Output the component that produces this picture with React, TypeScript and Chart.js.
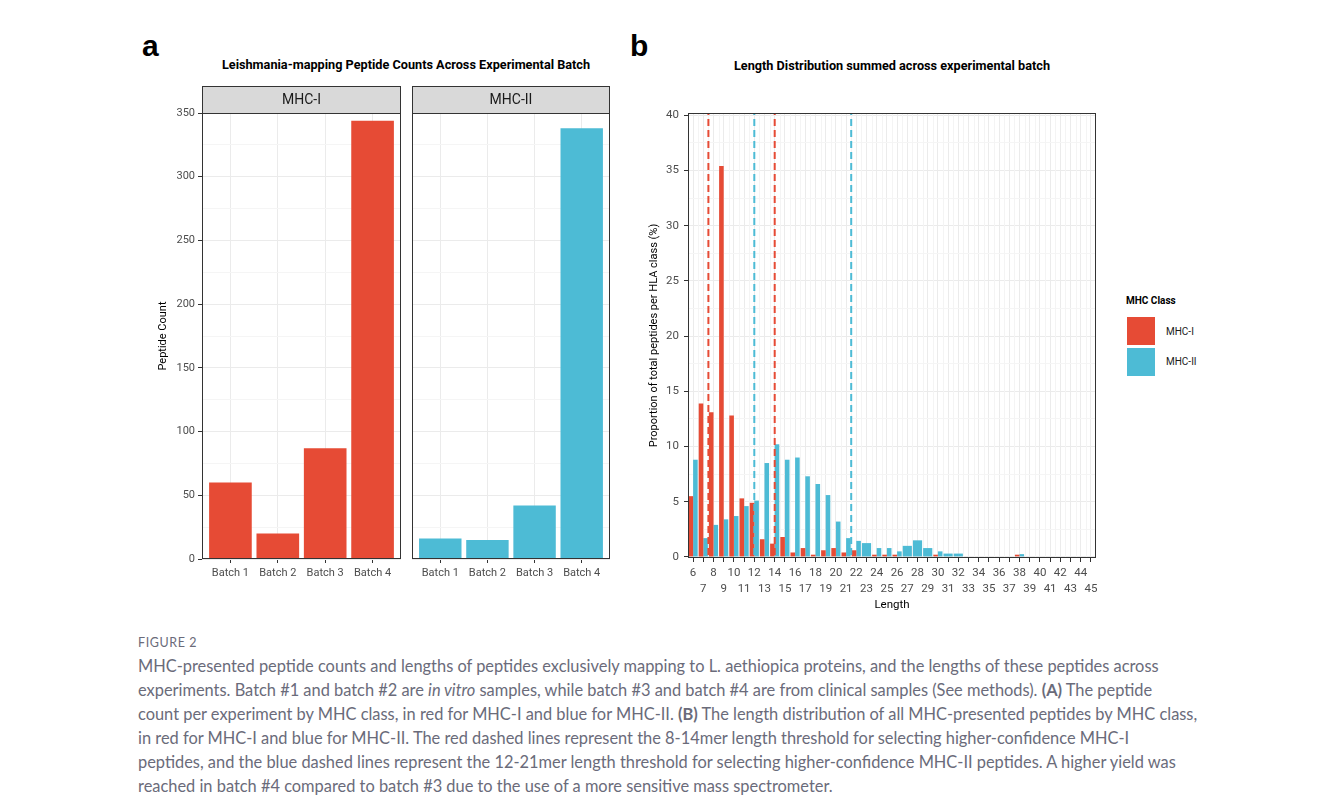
import React, { useEffect, useRef } from 'react';
import { Chart, registerables } from 'chart.js';

Chart.register(...registerables);

const RED = '#E64B35';
const BLUE = '#4DBBD5';

// Panel a
const batches = ['Batch 1', 'Batch 2', 'Batch 3', 'Batch 4'];
const batchPos = [1, 2, 3, 4];
const mhc1Counts = [60, 20, 87, 344];
const mhc2Counts = [16, 15, 42, 338];

// Panel b
const lengths = [6, 7, 8, 9, 10, 11, 12, 13, 14, 15, 16, 17, 18, 19, 20, 21, 22, 23, 24, 25,
  26, 27, 28, 29, 30, 31, 32, 33, 34, 35, 36, 37, 38, 39, 40, 41, 42, 43, 44, 45];
const mhc1Pct = [5.5, 13.9, 13.1, 35.4, 12.8, 5.3, 4.9, 1.6, 1.2, 1.8, 0.4, 0.8, 0.2, 0.6, 0.8, 0.4, 0.6, null, 0.2, 0.2,
  0.2, null, null, null, 0.2, null, null, null, null, null, null, null, 0.2, null, null, null, null, null, null, null];
const mhc2Pct = [8.8, 1.7, 2.9, 3.4, 3.7, 4.6, 5.1, 8.5, 10.2, 8.8, 9.0, 7.3, 6.6, 5.6, 3.2, 1.7, 1.45, 1.25, 0.8, 0.8,
  0.5, 1.0, 1.5, 0.8, 0.5, 0.3, 0.3, null, null, null, null, null, 0.25, null, null, null, null, null, null, null];
const mhc1Thresholds = [7.5, 14];
const mhc2Thresholds = [12, 21.5];

const TICK_COLOR = '#4d4d4d';
const FONT = 'Roboto';
const STRIP_H = 27;

const borderPlugin = {
  id: 'panelBorder',
  afterDatasetsDraw(chart: any) {
    const { ctx, chartArea } = chart;
    ctx.save();
    ctx.strokeStyle = '#333333';
    ctx.lineWidth = 1;
    ctx.strokeRect(chartArea.left + 0.5, chartArea.top + 0.5, chartArea.right - chartArea.left - 1, chartArea.bottom - chartArea.top - 1);
    ctx.restore();
  },
};

const stripPlugin = {
  id: 'strip',
  afterDraw(chart: any, _args: any, opts: any) {
    if (!opts || !opts.text) return;
    const { ctx, chartArea } = chart;
    const h = STRIP_H;
    const w = chartArea.right - chartArea.left;
    ctx.save();
    ctx.fillStyle = '#d9d9d9';
    ctx.fillRect(chartArea.left, chartArea.top - h, w, h);
    ctx.strokeStyle = '#333333';
    ctx.lineWidth = 1;
    ctx.strokeRect(chartArea.left + 0.5, chartArea.top - h + 0.5, w - 1, h);
    ctx.fillStyle = '#1a1a1a';
    ctx.font = `14px ${FONT}`;
    ctx.textAlign = 'center';
    ctx.textBaseline = 'middle';
    ctx.fillText(opts.text, chartArea.left + w / 2, chartArea.top - h / 2 + 1);
    ctx.restore();
  },
};

const minorXGridPlugin = {
  id: 'minorXGrid',
  beforeDatasetsDraw(chart: any) {
    const { ctx, chartArea, scales } = chart;
    const x = scales.x;
    ctx.save();
    ctx.strokeStyle = '#f4f4f4';
    ctx.lineWidth = 1;
    for (let i = 0; i < lengths.length - 1; i++) {
      const px = Math.round(x.getPixelForValue(i + 0.5)) + 0.5;
      ctx.beginPath();
      ctx.moveTo(px, chartArea.top);
      ctx.lineTo(px, chartArea.bottom);
      ctx.stroke();
    }
    ctx.restore();
  },
};

const thresholdPlugin = {
  id: 'thresholds',
  afterDatasetsDraw(chart: any) {
    const { ctx, chartArea, scales } = chart;
    const x = scales.x;
    const draw = (vals: number[], color: string) => {
      vals.forEach((v) => {
        const px = x.getPixelForValue(v - lengths[0]);
        ctx.save();
        ctx.strokeStyle = color;
        ctx.lineWidth = 2;
        ctx.setLineDash([7, 4]);
        ctx.lineDashOffset = -6;
        ctx.beginPath();
        ctx.moveTo(px, chartArea.top);
        ctx.lineTo(px, chartArea.bottom);
        ctx.stroke();
        ctx.restore();
      });
    };
    draw(mhc1Thresholds, RED);
    draw(mhc2Thresholds, BLUE);
  },
};

function facetConfig(counts: number[], color: string, label: string, showY: boolean, padLeft: number, padRight: number) {
  return {
    type: 'bar' as const,
    data: {
      datasets: [
        {
          data: counts.map((v, i) => ({ x: batchPos[i], y: v })),
          backgroundColor: color,
          borderWidth: 0,
          categoryPercentage: 0.9,
          barPercentage: 1,
        },
      ],
    },
    options: {
      animation: false as const,
      responsive: false,
      maintainAspectRatio: false,
      layout: { padding: { left: padLeft, right: padRight, top: 33, bottom: 0 } },
      plugins: {
        legend: { display: false },
        tooltip: { enabled: false },
        strip: { text: label },
      },
      scales: {
        x: {
          type: 'linear' as const,
          min: 0.4,
          max: 4.6,
          offset: false,
          grid: { offset: false, color: '#ebebeb', lineWidth: 1, tickColor: '#333333', tickLength: 4 },
          border: { display: false },
          ticks: {
            stepSize: 1,
            includeBounds: false,
            autoSkip: false,
            maxRotation: 0,
            padding: 4,
            color: TICK_COLOR,
            font: { family: FONT, size: 11 },
            callback: (v: any) => batches[batchPos.indexOf(v)] ?? '',
          },
          afterFit: (s: any) => { s.height = 41; },
        },
        y: {
          min: 0,
          max: 350,
          grid: {
            color: (c: any) => (c.tick && c.tick.value % 50 === 0 ? '#ebebeb' : '#f5f5f5'),
            lineWidth: 1,
            drawTicks: showY,
            tickColor: (c: any) => (c.tick && c.tick.value % 50 === 0 ? '#333333' : 'rgba(0,0,0,0)'),
            tickLength: 4,
          },
          border: { display: false },
          ticks: {
            display: showY,
            stepSize: 25,
            includeBounds: false,
            autoSkip: false,
            padding: 3,
            color: TICK_COLOR,
            font: { family: FONT, size: 11 },
            callback: (v: any) => (v % 50 === 0 ? String(v) : ''),
          },
          title: {
            display: showY,
            text: 'Peptide Count',
            color: '#000000',
            font: { family: FONT, size: 11 },
            padding: { top: 17, bottom: 0 },
          },
          afterFit: (s: any) => { s.width = showY ? 62 : 0; },
        },
      },
    },
    plugins: [stripPlugin, borderPlugin],
  };
}

function lengthConfig() {
  return {
    type: 'bar' as const,
    data: {
      labels: lengths.map(String),
      datasets: [
        { label: 'MHC-I', data: mhc1Pct, backgroundColor: RED, borderWidth: 0, categoryPercentage: 0.9, barPercentage: 1, skipNull: true },
        { label: 'MHC-II', data: mhc2Pct, backgroundColor: BLUE, borderWidth: 0, categoryPercentage: 0.9, barPercentage: 1, skipNull: true },
      ],
    },
    options: {
      animation: false as const,
      responsive: false,
      maintainAspectRatio: false,
      layout: { padding: { left: 0, right: 9, top: 33, bottom: 0 } },
      plugins: { legend: { display: false }, tooltip: { enabled: false } },
      scales: {
        x: {
          type: 'category' as const,
          offset: true,
          grid: { offset: false, color: '#ebebeb', lineWidth: 1, tickColor: '#333333', tickLength: 4 },
          border: { display: false },
          ticks: {
            autoSkip: false,
            maxRotation: 0,
            minRotation: 0,
            padding: 3,
            color: TICK_COLOR,
            font: { family: FONT, size: 11.5, lineHeight: 16 / 11.5 },
            callback: (_v: any, i: number) => (i % 2 === 0 ? [String(lengths[i]), ''] : ['', String(lengths[i])]),
          },
          title: {
            display: true,
            text: 'Length',
            color: '#000000',
            font: { family: FONT, size: 11.5 },
            padding: { top: 0, bottom: 8 },
          },
          afterFit: (s: any) => { s.height = 62; },
        },
        y: {
          min: -0.1,
          max: 40.2,
          grid: {
            color: (c: any) => (c.tick && c.tick.value % 5 === 0 ? '#ebebeb' : '#f5f5f5'),
            lineWidth: 1,
            tickColor: (c: any) => (c.tick && c.tick.value % 5 === 0 ? '#333333' : 'rgba(0,0,0,0)'),
            tickLength: 4,
          },
          border: { display: false },
          ticks: {
            stepSize: 2.5,
            includeBounds: false,
            autoSkip: false,
            padding: 5,
            color: TICK_COLOR,
            font: { family: FONT, size: 11.5 },
            callback: (v: any) => (v % 5 === 0 ? String(v) : ''),
          },
          title: {
            display: true,
            text: 'Proportion of total peptides per HLA class (%)',
            color: '#000000',
            font: { family: FONT, size: 11 },
            padding: { top: 18, bottom: 0 },
          },
          afterFit: (s: any) => { s.width = 58; },
        },
      },
    },
    plugins: [minorXGridPlugin, thresholdPlugin, borderPlugin],
  };
}

const abs = (left: number, top: number, extra: React.CSSProperties = {}): React.CSSProperties => ({
  position: 'absolute',
  left,
  top,
  ...extra,
});

export default function App() {
  const refA1 = useRef<HTMLCanvasElement>(null);
  const refA2 = useRef<HTMLCanvasElement>(null);
  const refB = useRef<HTMLCanvasElement>(null);

  useEffect(() => {
    const charts: Chart[] = [];
    if (refA1.current) charts.push(new Chart(refA1.current, facetConfig(mhc1Counts, RED, 'MHC-I', true, 0, 4) as any));
    if (refA2.current) charts.push(new Chart(refA2.current, facetConfig(mhc2Counts, BLUE, 'MHC-II', false, 7, 5) as any));
    if (refB.current) charts.push(new Chart(refB.current, lengthConfig() as any));
    return () => charts.forEach((c) => c.destroy());
  }, []);

  const captionColor = '#6a6b7a';

  return (
    <div style={{ position: 'absolute', left: 0, top: 0, width: 1331, height: 810, background: '#ffffff', overflow: 'hidden' }}>
      <div style={abs(142, 31, { font: 'bold 30px "Liberation Sans", Arial, sans-serif', lineHeight: '30px', color: '#000' })}>a</div>
      <div style={abs(630, 31, { font: 'bold 30px "Liberation Sans", Arial, sans-serif', lineHeight: '30px', color: '#000' })}>b</div>

      <div style={abs(106, 58, { width: 600, textAlign: 'center', font: `bold 12.7px ${FONT}`, lineHeight: '14px', color: '#000' })}>
        Leishmania-mapping Peptide Counts Across Experimental Batch
      </div>
      <div style={abs(592, 59, { width: 600, textAlign: 'center', font: `bold 12.7px ${FONT}`, lineHeight: '14px', color: '#000' })}>
        Length Distribution summed across experimental batch
      </div>

      <canvas ref={refA1} width={265} height={520} style={abs(140, 80, { width: 265, height: 520 })} />
      <canvas ref={refA2} width={210} height={520} style={abs(405, 80, { width: 210, height: 520 })} />
      <canvas ref={refB} width={475} height={540} style={abs(630, 80, { width: 475, height: 540 })} />

      <div style={abs(1126, 294, { font: `bold 10px ${FONT}`, lineHeight: '13px', color: '#000' })}>MHC Class</div>
      <div style={abs(1127, 317, { width: 28, height: 28, background: RED })} />
      <div style={abs(1127, 348, { width: 28, height: 28, background: BLUE })} />
      <div style={abs(1166, 325, { font: `10px ${FONT}`, lineHeight: '13px', color: '#1a1a1a' })}>MHC-I</div>
      <div style={abs(1166, 355, { font: `10px ${FONT}`, lineHeight: '13px', color: '#1a1a1a' })}>MHC-II</div>

      <div style={abs(138, 636, { font: '12.5px Lato, "Open Sans", sans-serif', letterSpacing: '0.6px', lineHeight: '14px', color: captionColor })}>FIGURE 2</div>
      <div style={abs(138, 654, { width: 1180, font: '16.4px Lato, "Open Sans", sans-serif', lineHeight: '24px', color: captionColor, whiteSpace: 'nowrap' })}>
        MHC-presented peptide counts and lengths of peptides exclusively mapping to L. aethiopica proteins, and the lengths of these peptides across
        <br />
        experiments. Batch #1 and batch #2 are <i>in vitro</i> samples, while batch #3 and batch #4 are from clinical samples (See methods). <b>(A)</b> The peptide
        <br />
        count per experiment by MHC class, in red for MHC-I and blue for MHC-II. <b>(B)</b> The length distribution of all MHC-presented peptides by MHC class,
        <br />
        in red for MHC-I and blue for MHC-II. The red dashed lines represent the 8-14mer length threshold for selecting higher-confidence MHC-I
        <br />
        peptides, and the blue dashed lines represent the 12-21mer length threshold for selecting higher-confidence MHC-II peptides. A higher yield was
        <br />
        reached in batch #4 compared to batch #3 due to the use of a more sensitive mass spectrometer.
      </div>
    </div>
  );
}
